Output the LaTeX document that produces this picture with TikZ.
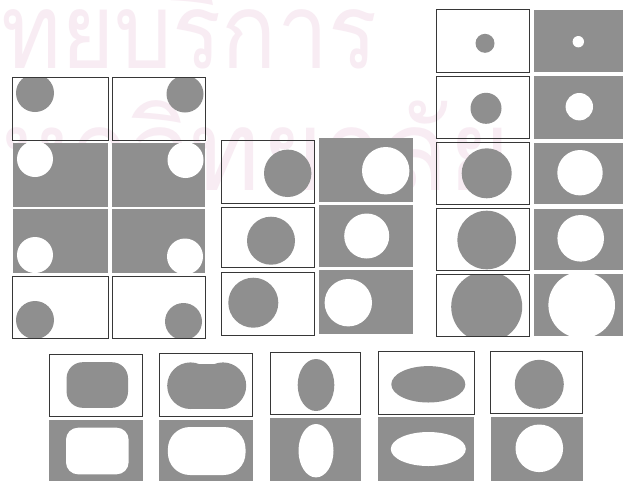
\documentclass[tikz,border=0pt]{standalone}
\usepackage{fontspec}
\newfontfamily\thaifont[Script=Thai]{Loma}
\definecolor{gcol}{RGB}{143,143,143}
\definecolor{bcol}{RGB}{55,55,55}
\definecolor{wm}{RGB}{248,236,243}
\tikzset{bline/.style={draw=bcol,line width=1pt},
  wmtext/.style={inner sep=0,text=wm}}
\newcommand\posbox[5]{%
  \begin{scope}\clip (#1,#2) rectangle (#3,#4); \fill[gcol] #5; \end{scope}
  \draw[bline] (#1,#2) rectangle (#3,#4);}
\newcommand\negbox[5]{%
  \fill[gcol] (#1,#2) rectangle (#3,#4);
  \begin{scope}\clip (#1,#2) rectangle (#3,#4); \fill[white] #5; \end{scope}}
\begin{document}
\begin{tikzpicture}[x=1pt,y=-1pt]
\useasboundingbox (0,0) rectangle (628,480);
\fill[white] (0,0) rectangle (628,480);
% watermark
\node[wmtext,anchor=base west,font=\thaifont\fontsize{105}{105}\selectfont] (wm1) at (1,68) {\scalebox{0.87}[1]{ทยบริการ}};
\node[wmtext,anchor=base west,font=\thaifont\fontsize{112}{112}\selectfont] (wm2) at (1,190) {\scalebox{0.95}[1]{หาวิทยาลัย}};
% left group
\posbox{12.5}{77}{108}{140}{(35,93) circle (19)}
\posbox{112}{77}{205}{140}{(185,94) circle (18.5)}
\negbox{12.5}{143}{108}{207}{(35,159) circle (18)}
\negbox{112}{143}{205}{207}{(185.5,160) circle (18)}
\negbox{12.5}{209}{108}{273}{(35,255) circle (18)}
\negbox{112}{209}{205}{273}{(185,256.5) circle (18)}
\posbox{12.5}{276}{108}{338}{(35,320) circle (19)}
\posbox{112}{276}{205}{338}{(183.5,321.5) circle (18.5)}
% middle group
\posbox{221.5}{140}{314}{203}{(287.7,173.3) circle (23.7)}
\negbox{319}{138}{412.5}{202}{(385.7,170.7) circle (23.7)}
\posbox{221.5}{207}{314}{267}{(271,240.7) circle (24)}
\negbox{319}{205}{412.5}{267}{(366.7,236) circle (22.5)}
\posbox{221.5}{272.5}{314}{335}{(253.3,302.7) circle (25)}
\negbox{319}{270}{412.5}{334}{(348.3,302.7) circle (23.7)}
% right group
\posbox{436}{9.5}{529}{72}{(485,43.3) circle (9.5)}
\negbox{533.5}{9.5}{622.5}{72}{(578.3,41.7) circle (5.7)}
\posbox{436}{76}{529}{138.5}{(486,108.3) circle (15.5)}
\negbox{533.5}{76}{622.5}{138.5}{(579.3,106.7) circle (13.7)}
\posbox{436}{142.5}{529}{204}{(486.7,173.3) circle (25)}
\negbox{533.5}{142.5}{622.5}{204}{(580,172.7) circle (22.7)}
\posbox{436}{208.5}{529}{270}{(486.7,240) circle (29.3)}
\negbox{533.5}{208.5}{622.5}{270}{(580.7,238.3) circle (23.3)}
\posbox{436}{274}{529}{336}{(486.7,306.7) circle (35.5)}
\negbox{533.5}{274}{622.5}{336}{(581.7,305) circle (33.3)}
% bottom group
\posbox{49.3}{354}{142.7}{416}{[rounded corners=16pt] (66.6,362.2) rectangle (128,407.8)}
\negbox{49.3}{420}{142.7}{482}{[rounded corners=12pt] (66,427.7) rectangle (128.6,474.3)}
\fill[gcol] (190.5,385.7) circle (23.3);
\fill[gcol] (222.9,385.7) circle (23.3);
\fill[gcol] (190.5,363.6) rectangle (222.9,409);
\draw[bline] (159.3,353.3) rectangle (252.7,416);
\negbox{159.3}{420}{252.7}{482}{[rounded corners=22pt] (167.9,427) rectangle (245.5,475)}
\posbox{270}{352.3}{360.7}{414.3}{(316,385) ellipse [x radius=18.3,y radius=26]}
\negbox{270}{418}{360.7}{482}{(316,450.7) ellipse [x radius=17.5,y radius=26.7]}
\posbox{378.3}{351.7}{474}{414}{(428.3,384.3) ellipse [x radius=37,y radius=18.2]}
\negbox{378.3}{416.7}{474}{482}{(428.3,449) ellipse [x radius=37.5,y radius=17]}
\posbox{490.7}{351}{582.7}{413.3}{(539.3,384.3) circle (24.5)}
\negbox{490.7}{416.7}{582.7}{482}{(539.3,448.3) circle (23.8)}
\end{tikzpicture}
\end{document}
